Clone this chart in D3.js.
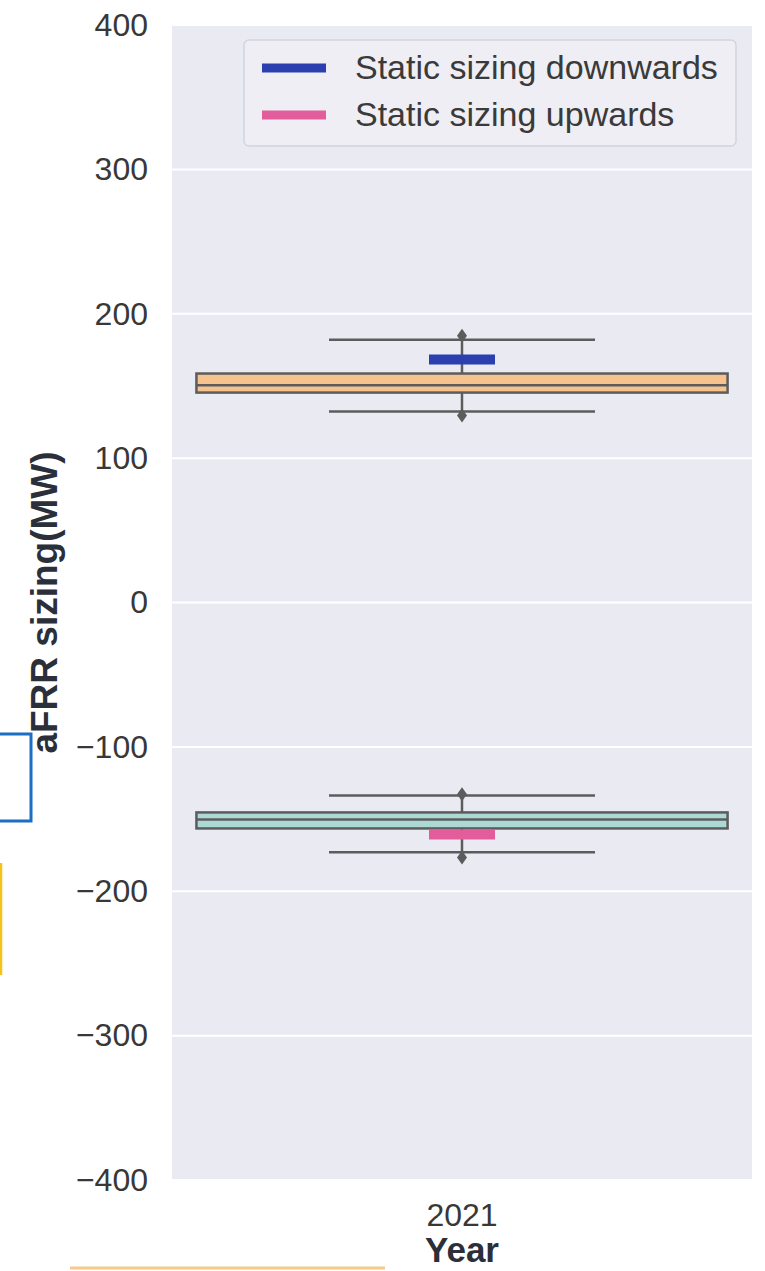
<!DOCTYPE html>
<html>
<head>
<meta charset="utf-8">
<script src="https://cdn.jsdelivr.net/npm/d3@7"></script>
<style>
html,body{margin:0;padding:0;background:#fff;}
svg{display:block;font-family:"Liberation Sans",Arial,sans-serif;}
</style>
</head>
<body>
<svg id="chart" width="765" height="1271"></svg>
<script>
// ---- data ----
const years = ["2021"];
const yTicks = [-400, -300, -200, -100, 0, 100, 200, 300, 400];
const boxNames = ["downwards", "upwards"];
const boxQ1 = [145.4, -156.5];
const boxMedian = [150.5, -150.3];
const boxQ3 = [158.6, -145.4];
const whiskerLow = [132.3, -173];
const whiskerHigh = [182, -133.6];
const outliers = [[129.5, 184.8], [-176.6, -132.8]];
const staticValues = [168.3, -160.7];
const legendLabels = ["Static sizing downwards", "Static sizing upwards"];

// ---- styles ----
const boxFills = ["#f6c28e", "#acd9d6"];
const staticColors = ["#2b3fae", "#e35c9c"];
const edge = "#5c5c5c";
const FONT = "'Liberation Sans',Arial,sans-serif";

const svg = d3.select("#chart");
const M = {left: 172, right: 752, top: 25, bottom: 1180};

const y = d3.scaleLinear().domain([-400, 400]).range([M.bottom, M.top]);
const x = d3.scaleBand().domain(years).range([M.left, M.right]).paddingInner(0).paddingOuter(0.046);

// background
svg.append("rect").attr("x", M.left).attr("y", M.top)
  .attr("width", M.right - M.left).attr("height", M.bottom - M.top).attr("fill", "#eaeaf2");

// grid
svg.append("g").selectAll("line").data(yTicks).join("line")
  .attr("x1", M.left).attr("x2", M.right)
  .attr("y1", d => y(d)).attr("y2", d => y(d))
  .attr("stroke", "#fff").attr("stroke-width", 2);

// y axis
const yAxis = d3.axisLeft(y).tickValues(yTicks).tickSize(0).tickPadding(24)
  .tickFormat(d => d < 0 ? "\u2212" + Math.abs(d) : d);
const gy = svg.append("g").attr("transform", `translate(${M.left},0)`).call(yAxis);
gy.select(".domain").remove();
gy.selectAll("text").attr("font-size", 32).attr("fill", "#383838").attr("font-family", FONT);

// x axis
const xAxis = d3.axisBottom(x).tickSize(0).tickPadding(23);
const gx = svg.append("g").attr("transform", `translate(0,${M.bottom})`).call(xAxis);
gx.select(".domain").remove();
gx.selectAll("text").attr("font-size", 32).attr("fill", "#383838").attr("font-family", FONT);

// axis titles
svg.append("text").attr("x", x(years[0]) + x.bandwidth() / 2).attr("y", 1262)
  .attr("text-anchor", "middle").attr("font-size", 35).attr("font-weight", "bold")
  .attr("fill", "#2a2f3a").text("Year");
svg.append("text").attr("transform", `translate(57,${y(0)}) rotate(-90)`)
  .attr("text-anchor", "middle").attr("font-size", 37).attr("font-weight", "bold")
  .attr("fill", "#2a2f3a").text("aFRR sizing(MW)");

// boxes
const cx = x(years[0]) + x.bandwidth() / 2;
const bw = x.bandwidth();
const capHalf = 133;
const g = svg.append("g");
boxNames.forEach((n, i) => {
  g.append("line").attr("x1", cx).attr("x2", cx)
    .attr("y1", y(whiskerHigh[i])).attr("y2", y(boxQ3[i]))
    .attr("stroke", edge).attr("stroke-width", 2.5);
  g.append("line").attr("x1", cx).attr("x2", cx)
    .attr("y1", y(boxQ1[i])).attr("y2", y(whiskerLow[i]))
    .attr("stroke", edge).attr("stroke-width", 2.5);
  [whiskerHigh[i], whiskerLow[i]].forEach(v => {
    g.append("line").attr("x1", cx - capHalf).attr("x2", cx + capHalf)
      .attr("y1", y(v)).attr("y2", y(v))
      .attr("stroke", edge).attr("stroke-width", 2.5);
  });
  outliers[i].forEach(v => {
    g.append("path").attr("transform", `translate(${cx},${y(v)})`)
      .attr("d", "M0,-7L5,0L0,7L-5,0Z").attr("fill", edge);
  });
  g.append("rect").attr("x", x(years[0])).attr("width", bw)
    .attr("y", y(boxQ3[i])).attr("height", y(boxQ1[i]) - y(boxQ3[i]))
    .attr("fill", boxFills[i]).attr("stroke", edge).attr("stroke-width", 2.5);
  g.append("line").attr("x1", x(years[0])).attr("x2", x(years[0]) + bw)
    .attr("y1", y(boxMedian[i])).attr("y2", y(boxMedian[i]))
    .attr("stroke", edge).attr("stroke-width", 2.5);
  g.append("line").attr("x1", cx - 33).attr("x2", cx + 33)
    .attr("y1", y(staticValues[i])).attr("y2", y(staticValues[i]))
    .attr("stroke", staticColors[i]).attr("stroke-width", 10);
});

// legend
const lg = svg.append("g").attr("transform", "translate(244,40)");
lg.append("rect").attr("width", 492).attr("height", 106).attr("rx", 5)
  .attr("fill", "#eeeef4").attr("stroke", "#d4d4dc").attr("stroke-width", 1.5);
legendLabels.forEach((t, i) => {
  const ly = 28 + i * 47;
  lg.append("line").attr("x1", 18).attr("x2", 82).attr("y1", ly).attr("y2", ly)
    .attr("stroke", staticColors[i]).attr("stroke-width", 9);
  lg.append("text").attr("x", 111).attr("y", ly + 11).attr("font-size", 34)
    .attr("fill", "#3a3a3a").attr("font-family", FONT).text(t);
});

// page artifacts from the source screenshot
svg.append("path").attr("d", "M-5,734 L31,734 L31,821 L-5,821")
  .attr("fill", "none").attr("stroke", "#1b6fc2").attr("stroke-width", 3);
svg.append("line").attr("x1", 1).attr("x2", 1).attr("y1", 863).attr("y2", 975)
  .attr("stroke", "#f5c21b").attr("stroke-width", 2.5);
svg.append("line").attr("x1", 70).attr("x2", 385).attr("y1", 1268).attr("y2", 1268)
  .attr("stroke", "#f8c98c").attr("stroke-width", 3);
</script>
</body>
</html>
